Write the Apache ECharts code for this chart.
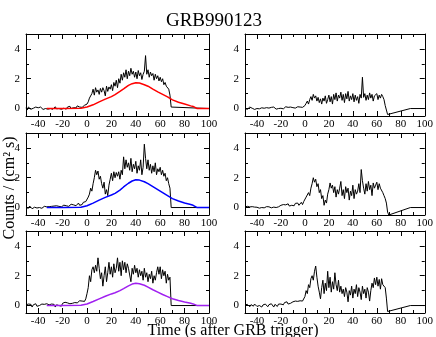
<!DOCTYPE html>
<html>
<head>
<meta charset="utf-8">
<script src="https://cdn.jsdelivr.net/npm/echarts@6/dist/echarts.min.js"></script>
<style>html,body{margin:0;padding:0;background:#fff}#c{width:436px;height:337px}</style>
</head>
<body>
<div id="c"></div>
<script>
// ---- data ----
const chartTitle = 'GRB990123';
const yTitle = 'Counts / (cm\u00B2 s)';
const xTitle = 'Time (s after GRB trigger)';
const countsStart = -50; // first sample time, 1 s bins
const xMajorTicks = [-40, -20, 0, 20, 40, 60, 80, 100];
const xMinorTicks = [-50, -30, -10, 10, 30, 50, 70, 90];
const yMajorTicks = [0, 2, 4];
const yMinorTicks = [1, 3];

const topLeftCounts = [
 0.05,-0.1,0.1,0.0,-0.05,0.08,0.02,-0.08,0.1,0.0,
 0.05,-0.03,0.1,0.02,-0.06,0.04,0.0,0.08,-0.04,0.06,
 0.0,0.1,-0.05,0.05,0.12,-0.02,0.06,0.0,0.1,-0.05,
 0.08,0.02,0.12,-0.04,0.1,0.05,0.15,0.0,0.1,0.06,
 0.12,0.04,0.18,0.06,0.1,0.2,0.08,0.15,0.22,0.1,
 0.3,0.45,0.7,0.6,1.0,1.3,0.9,1.4,1.1,1.25,
 0.95,1.35,1.1,1.4,1.2,0.85,1.5,1.15,1.45,1.3,
 1.6,1.2,1.75,1.5,1.9,1.4,2.0,1.7,2.3,1.9,
 2.4,2.1,2.6,2.0,2.5,2.2,2.7,2.3,2.5,2.1,
 2.45,2.0,2.55,2.2,2.4,1.95,2.3,2.5,3.55,2.3,
 2.6,2.1,2.45,2.2,2.35,1.9,2.3,2.0,2.2,1.85,
 2.1,1.8,2.0,1.6,1.75,1.5,1.6,1.3,0.9,0.1
];
const midLeftCounts = [
 0.0,0.05,-0.05,0.1,0.0,-0.08,0.05,0.02,0.08,-0.03,
 0.04,0.0,0.07,-0.05,0.03,0.08,-0.02,0.05,0.0,0.06,
 0.02,0.08,0.0,0.1,0.04,0.12,0.02,0.08,0.14,0.05,
 0.1,0.16,0.06,0.12,0.2,0.08,0.15,0.22,0.1,0.18,
 0.25,0.12,0.2,0.3,0.15,0.28,0.2,0.35,0.25,0.4,
 0.5,0.7,0.9,1.3,1.1,1.6,2.0,2.5,2.2,2.45,
 1.9,2.1,1.6,1.3,1.7,0.9,1.2,0.8,1.5,1.9,
 2.3,1.8,2.4,2.0,2.35,2.1,2.4,1.9,2.5,2.2,
 3.4,2.6,3.2,2.7,3.0,2.5,3.3,2.4,2.9,2.6,
 3.1,2.3,2.8,2.5,3.2,2.2,2.7,4.25,3.3,2.6,
 3.2,2.5,2.9,2.3,2.8,2.4,3.0,2.2,2.6,2.4,
 2.7,2.2,2.5,2.1,2.3,1.8,2.0,1.6,1.3,0.0
];
const botLeftCounts = [
 0.05,-0.05,0.1,0.0,0.08,-0.1,0.05,0.0,0.12,-0.05,
 0.06,0.0,-0.08,0.1,0.02,0.08,-0.05,0.12,0.0,0.05,
 -0.06,0.1,0.02,0.08,-0.1,0.05,0.12,0.0,0.08,-0.04,
 0.15,0.08,0.22,0.1,0.18,0.25,0.12,0.2,0.15,0.28,
 0.2,0.3,0.18,0.25,0.32,0.22,0.3,0.35,0.28,0.45,
 0.8,1.2,2.0,1.6,2.4,2.6,2.2,2.7,2.3,3.2,
 2.5,1.8,2.2,1.3,2.0,2.6,1.6,2.2,2.9,2.1,
 2.6,1.9,2.8,2.2,2.5,3.2,2.3,2.9,2.0,3.0,
 2.4,2.9,2.2,2.8,2.5,2.6,1.6,2.5,2.1,2.7,
 2.2,2.5,1.9,2.4,2.0,2.3,1.7,2.5,1.9,2.2,
 1.6,2.1,1.8,2.3,1.5,2.0,1.7,2.2,2.6,2.1,
 2.6,1.8,2.4,2.0,2.3,1.5,2.1,1.7,1.9,0.0
];
const topRightCounts = [
 0.0,0.08,-0.05,0.05,0.1,-0.03,0.02,0.06,-0.06,0.04,
 0.0,0.03,-0.02,0.0,0.05,-0.04,0.02,0.0,0.06,-0.02,
 0.03,0.0,0.08,-0.05,0.1,0.02,-0.04,0.06,0.0,0.08,
 0.02,0.1,-0.02,0.06,0.12,0.0,0.08,0.04,0.1,0.02,
 0.06,0.1,0.03,0.08,0.12,0.05,0.1,0.02,0.08,0.05,
 0.2,0.35,0.5,0.3,0.6,0.8,0.55,0.95,0.7,0.85,
 0.5,0.75,0.4,0.65,0.3,0.7,0.5,0.85,0.35,0.6,
 0.9,0.45,0.8,0.3,0.95,0.6,1.05,0.5,0.9,0.7,
 1.1,0.55,0.95,0.4,1.0,0.65,1.15,0.5,0.85,0.6,
 1.0,0.45,0.9,0.55,0.8,0.35,0.95,0.7,2.1,0.75,
 1.0,0.55,0.9,0.6,1.05,0.7,0.95,0.5,0.85,0.75,
 1.0,0.6,0.9,0.7,0.95,0.8,0.6,0.2,-0.1,-0.4
];
const midRightCounts = [
 0.05,-0.02,0.08,0.0,0.04,-0.05,0.06,0.0,0.03,-0.03,
 0.02,0.06,-0.04,0.05,0.0,0.08,-0.02,0.04,0.06,0.0,
 0.05,0.1,-0.02,0.08,0.03,0.1,0.0,0.12,0.05,0.08,
 0.15,0.08,0.2,0.1,0.18,0.12,0.25,0.1,0.2,0.15,
 0.22,0.12,0.28,0.18,0.3,0.15,0.25,0.35,0.2,0.4,
 0.5,0.7,0.6,1.0,0.8,1.3,1.6,2.0,1.7,1.9,
 1.4,1.6,1.0,1.2,0.6,0.8,0.15,0.5,0.3,0.9,
 1.2,1.65,1.3,1.5,1.0,1.4,0.7,1.2,0.9,1.3,
 1.75,0.8,1.2,0.6,1.4,1.0,1.3,0.5,1.1,0.8,
 1.5,0.6,1.2,0.9,1.1,1.6,1.0,2.55,1.8,1.3,
 0.9,1.6,1.1,1.75,1.2,1.5,0.8,1.65,1.3,1.5,
 1.7,1.2,1.6,1.3,1.4,1.0,0.8,0.6,0.3,-0.3
];
const botRightCounts = [
 0.05,-0.05,0.08,0.0,-0.08,0.06,0.02,-0.04,0.1,0.0,
 -0.06,0.05,0.0,0.08,-0.1,0.04,-0.02,0.1,0.0,-0.08,
 0.06,-0.04,0.12,0.0,-0.1,0.08,0.02,-0.06,0.1,0.0,
 0.1,0.18,0.05,0.2,0.12,0.25,0.1,0.22,0.15,0.2,
 0.25,0.18,0.3,0.22,0.28,0.2,0.32,0.25,0.3,0.4,
 0.6,1.0,0.8,1.4,1.2,1.8,2.0,1.7,2.3,2.65,
 1.9,1.3,0.9,0.45,1.2,1.7,0.8,1.5,1.0,2.3,
 1.2,1.9,0.9,1.6,1.1,2.2,1.4,1.0,1.7,0.9,
 1.3,0.8,1.1,0.6,1.2,0.9,0.25,1.0,0.7,1.3,
 0.5,1.1,0.8,1.4,0.6,1.2,0.9,0.4,1.3,0.8,
 1.1,0.5,1.2,0.9,0.3,1.0,1.5,1.2,1.85,1.4,
 1.9,1.3,1.75,1.1,1.8,1.4,1.5,1.2,0.5,-0.4
];
// after the burst
const leftTailTimes = [69.5, 100];
const leftTailCounts = [0, 0];
const rightTailTimes = [70, 88, 100];
const rightTailCounts = [-0.5, 0, 0];

// model curves (left column)
const modelTimes = [-33,-20,-5,0,5,10,15,20,23,27,30,34,37,40,43,47,50,54,58,62,66,70,75,80,85,87,88,90,92,100];
const redModel    = [0,0,0.02,0.1,0.25,0.45,0.63,0.8,0.93,1.15,1.32,1.55,1.67,1.73,1.71,1.6,1.5,1.3,1.12,0.95,0.78,0.58,0.42,0.3,0.18,0.14,0.04,0.01,0,0];
const blueModel   = [0,0,0.02,0.12,0.3,0.5,0.68,0.84,0.95,1.17,1.38,1.63,1.78,1.86,1.84,1.73,1.6,1.4,1.2,1.0,0.8,0.6,0.44,0.31,0.2,0.15,0.04,0.01,0,0];
const purpleModel = [0,0,0.02,0.1,0.27,0.45,0.62,0.78,0.86,1.0,1.13,1.32,1.44,1.49,1.46,1.36,1.24,1.06,0.9,0.74,0.6,0.46,0.34,0.24,0.15,0.11,0.03,0.01,0,0];

// ---- layout ----
const panels = [
  {left: 26,  top: 34,  counts: topLeftCounts, tailT: leftTailTimes, tailV: leftTailCounts, model: redModel, color: '#ff0000'},
  {left: 245, top: 34,  counts: topRightCounts, tailT: rightTailTimes, tailV: rightTailCounts},
  {left: 26,  top: 133, counts: midLeftCounts, tailT: leftTailTimes, tailV: leftTailCounts, model: blueModel, color: '#0000ff'},
  {left: 245, top: 133, counts: midRightCounts, tailT: rightTailTimes, tailV: rightTailCounts},
  {left: 26,  top: 231, counts: botLeftCounts, tailT: leftTailTimes, tailV: leftTailCounts, model: purpleModel, color: '#a020f0'},
  {left: 245, top: 231, counts: botRightCounts, tailT: rightTailTimes, tailV: rightTailCounts}
];
const FONT = '"Liberation Serif", "Times New Roman", serif';
const grid = [], xAxis = [], yAxis = [], series = [];
panels.forEach((p, g) => {
  grid.push({left: p.left, top: p.top, width: 183, height: 82, containLabel: false});
  const xa = (pos, ticks, len, line, labels) => ({
    type: 'value', gridIndex: g, position: pos, min: -50, max: 100,
    axisLine: {show: line, onZero: false, lineStyle: {color: '#000', width: 1}},
    axisTick: {show: true, inside: true, length: len, customValues: ticks, lineStyle: {color: '#000', width: 1}},
    axisLabel: labels ? {show: true, customValues: xMajorTicks, margin: 3, color: '#000', fontFamily: FONT, fontSize: 11} : {show: false},
    splitLine: {show: false}
  });
  const ya = (pos, ticks, len, line, labels) => ({
    type: 'value', gridIndex: g, position: pos, min: -0.5, max: 5,
    axisLine: {show: line, onZero: false, lineStyle: {color: '#000', width: 1}},
    axisTick: {show: true, inside: true, length: len, customValues: ticks, lineStyle: {color: '#000', width: 1}},
    axisLabel: labels ? {show: true, customValues: yMajorTicks, margin: 6, color: '#000', fontFamily: FONT, fontSize: 11} : {show: false},
    splitLine: {show: false}
  });
  xAxis.push(xa('bottom', xMajorTicks, 5, true, true), xa('bottom', xMinorTicks, 3, false, false),
             xa('top', xMajorTicks, 5, true, false), xa('top', xMinorTicks, 3, false, false));
  yAxis.push(ya('left', yMajorTicks, 5, true, true), ya('left', yMinorTicks, 3, false, false),
             ya('right', yMajorTicks, 5, true, false), ya('right', yMinorTicks, 3, false, false));
  const data = p.counts.map((v, i) => [countsStart + i, v]);
  p.tailT.forEach((t, i) => data.push([t, p.tailV[i]]));
  series.push({type: 'line', xAxisIndex: g * 4, yAxisIndex: g * 4, data: data, showSymbol: false, symbol: 'none',
    lineStyle: {color: '#000', width: 1}, silent: true, animation: false, z: 2});
  if (p.model) {
    series.push({type: 'line', xAxisIndex: g * 4, yAxisIndex: g * 4,
      data: modelTimes.map((t, i) => [t, p.model[i]]), showSymbol: false, symbol: 'none',
      lineStyle: {color: p.color, width: 1.5}, silent: true, animation: false, z: 3});
  }
});

const chart = echarts.init(document.getElementById('c'), null, {renderer: 'canvas'});
chart.setOption({
  animation: false,
  backgroundColor: '#fff',
  grid, xAxis, yAxis, series,
  graphic: [
    {type: 'text', x: 214, y: 21, style: {text: chartTitle, font: '19px ' + FONT, fill: '#000', textAlign: 'center', textVerticalAlign: 'middle'}},
    {type: 'text', x: 10, y: 188, rotation: Math.PI / 2, style: {text: yTitle, font: '16px ' + FONT, fill: '#000', textAlign: 'center', textVerticalAlign: 'middle'}},
    {type: 'text', x: 233, y: 331, style: {text: xTitle, font: '16px ' + FONT, fill: '#000', textAlign: 'center', textVerticalAlign: 'middle'}}
  ]
});
</script>
</body>
</html>
